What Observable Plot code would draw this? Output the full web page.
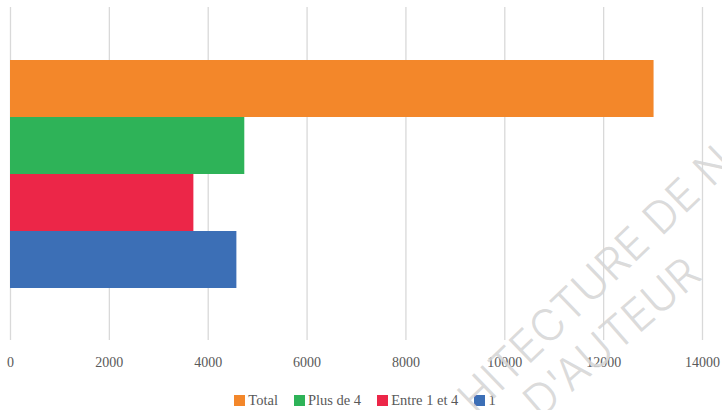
<!DOCTYPE html>
<html>
<head>
<meta charset="utf-8">
<script src="https://cdn.jsdelivr.net/npm/d3@7"></script>
<script src="https://cdn.jsdelivr.net/npm/@observablehq/plot@0.6"></script>
<style>
  html, body { margin: 0; padding: 0; background: #fff; overflow: hidden; }
  #wrap { position: relative; width: 722px; height: 410px; }
  #legend { display: flex; justify-content: center; align-items: center; height: 20px; padding-left: 8px;
    font-family: "Liberation Serif", "DejaVu Serif", serif; font-size: 14.5px; color: #595959; }
  #legend .item { display: flex; align-items: center; margin: 0 8px; }
  #legend .sw { width: 11px; height: 11px; margin-right: 3px; }
  #wm { position: absolute; left: 0; top: 0; pointer-events: none; }
</style>
</head>
<body>
<div id="wrap">
  <div id="chart"></div>
  <div id="legend"></div>
  <svg id="wm" width="722" height="410"></svg>
</div>
<script>
const categories = ["Total", "Plus de 4", "Entre 1 et 4", "1"];
const values = [13020, 4740, 3710, 4580];
const colors = ["#F3872A", "#2EB358", "#EC2648", "#3C6FB6"];
const xTicks = [0, 2000, 4000, 6000, 8000, 10000, 12000, 14000];
const watermark = ["HITECTURE DE NANTES", "D'AUTEUR"];

const data = categories.map((c, i) => ({category: c, value: values[i]}));

const chart = Plot.plot({
  width: 722,
  height: 390,
  marginTop: 7,
  marginBottom: 50,
  marginLeft: 10,
  marginRight: 20,
  style: {fontFamily: "'Liberation Serif', 'DejaVu Serif', serif", fontSize: "14px", color: "#595959", background: "white"},
  x: {domain: [0, 14000], ticks: xTicks, tickFormat: d => String(d), tickSize: 0, tickPadding: 17, label: null},
  y: {domain: categories, paddingInner: 0, paddingOuter: 0.92, axis: null},
  color: {domain: categories, range: colors},
  marks: [
    Plot.gridX(xTicks, {stroke: "#d9d9d9", strokeOpacity: 1, strokeWidth: 1.3}),
    Plot.barX(data, {x: "value", y: "category", fill: "category"}),
    Plot.axisX(xTicks, {tickSize: 0, tickPadding: 17, tickFormat: d => String(d), fill: "#595959", label: null})
  ]
});
document.getElementById("chart").appendChild(chart);

const legend = document.getElementById("legend");
categories.forEach((c, i) => {
  const it = document.createElement("div");
  it.className = "item";
  const sw = document.createElement("span");
  sw.className = "sw";
  sw.style.background = colors[i];
  const tx = document.createElement("span");
  tx.textContent = c;
  it.appendChild(sw); it.appendChild(tx);
  legend.appendChild(it);
});

// watermark overlay
const wm = d3.select("#wm");
const wmText = (g, s) => g.append("text")
  .attr("font-family", "Inter, 'Liberation Sans', sans-serif")
  .attr("font-weight", 300)
  .attr("font-size", 44)
  .attr("fill", "#d6d6d6")
  .attr("fill-opacity", 0.9)
  .text(s);
wmText(wm.append("g").attr("transform", "translate(476,416) rotate(-44)"), watermark[0]);
wmText(wm.append("g").attr("transform", "translate(540,420) rotate(-41)"), watermark[1]);
</script>
</body>
</html>
